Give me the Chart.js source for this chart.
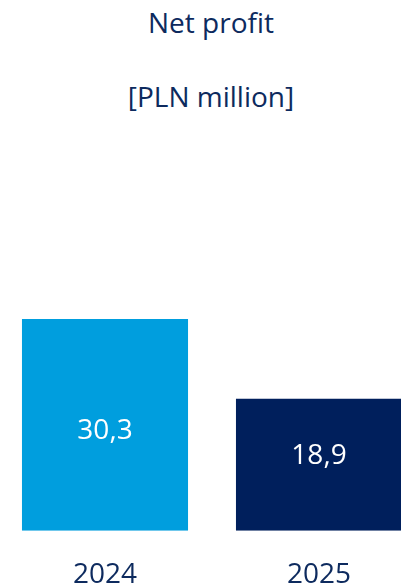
<!DOCTYPE html>
<html>
<head>
<meta charset="utf-8">
<script src="https://cdn.jsdelivr.net/npm/chart.js@4"></script>
<style>
  html, body { margin:0; padding:0; width:401px; height:584px; overflow:hidden; background:#fff; }
  .ttl { position:absolute; left:0; width:422px; text-align:center;
         font-family:"Open Sans", sans-serif; font-size:28px; line-height:28px; color:#0d2a5e; white-space:nowrap; }
  #wrap { position:absolute; left:-2px; top:130px; }
</style>
</head>
<body>
<div class="ttl" style="top:8px">Net profit</div>
<div class="ttl" style="top:82px">[PLN million]</div>
<div id="wrap"><canvas id="c" width="428" height="454"></canvas></div>
<script>
// data
const years   = ['2024', '2025'];
const profit  = [30.3, 18.9];
const barCols = ['#009ede', '#001f5c'];
const labelShift = [6, -9];   // px nudge of the value label from bar middle

const valueLabels = {
  id: 'valueLabels',
  afterDatasetsDraw(chart) {
    const ctx = chart.ctx;
    const meta = chart.getDatasetMeta(0);
    ctx.save();
    ctx.font = '28px "Open Sans", sans-serif';
    ctx.fillStyle = '#ffffff';
    ctx.textAlign = 'center';
    ctx.textBaseline = 'middle';
    meta.data.forEach((bar, i) => {
      const txt = profit[i].toFixed(1).replace('.', ',');
      ctx.fillText(txt, bar.x, (bar.y + bar.base) / 2 + labelShift[i]);
    });
    ctx.restore();
  }
};

new Chart(document.getElementById('c'), {
  type: 'bar',
  data: {
    labels: years,
    datasets: [{
      data: profit,
      backgroundColor: barCols,
      categoryPercentage: 1,
      barPercentage: 0.776,
      borderWidth: 0
    }]
  },
  options: {
    responsive: false,
    animation: false,
    devicePixelRatio: 1,
    layout: { padding: 0 },
    plugins: { legend: { display: false }, tooltip: { enabled: false } },
    scales: {
      x: {
        grid: { display: false, drawTicks: false },
        border: { display: false },
        ticks: { color: '#0d2a5e', padding: 28, font: { family: 'Open Sans', size: 28 } },
        afterFit: s => { s.height = 53.3; }
      },
      y: { display: false, min: 0, max: 57.35 }
    }
  },
  plugins: [valueLabels]
});
</script>
</body>
</html>
